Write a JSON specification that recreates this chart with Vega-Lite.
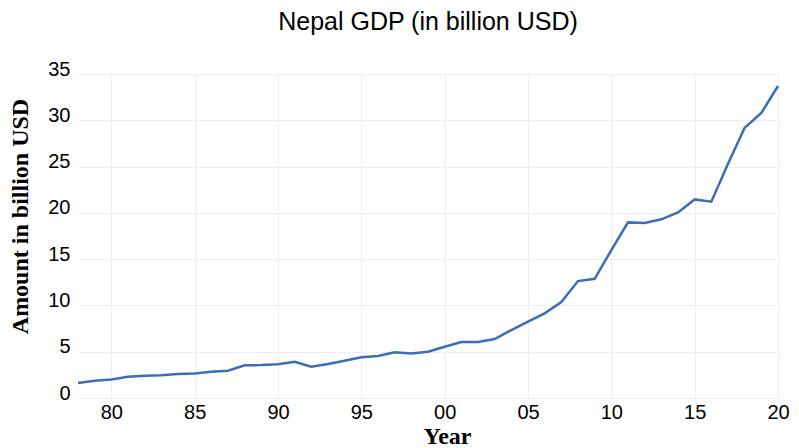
{
  "$schema": "https://vega.github.io/schema/vega-lite/v6.json",
  "autosize": "none",
  "width": 700,
  "height": 324,
  "padding": {"left": 78, "top": 74, "right": 21, "bottom": 50},
  "background": "white",
  "title": {
    "text": "Nepal GDP (in billion USD)",
    "font": "Liberation Sans",
    "fontSize": 25,
    "fontWeight": "normal",
    "color": "#000000",
    "offset": 24,
    "anchor": "middle"
  },
  "config": {
    "view": {"stroke": null},
    "axis": {
      "domain": false,
      "ticks": false,
      "gridColor": "#eeeeee",
      "gridWidth": 1,
      "labelFont": "Liberation Sans",
      "labelFontSize": 20,
      "labelColor": "#000000",
      "titleFont": "Liberation Serif",
      "titleFontSize": 24,
      "titleFontWeight": "bold",
      "titleColor": "#000000"
    }
  },
  "data": {
    "values": [
      {"year": 1978, "gdp": 1.62},
      {"year": 1979, "gdp": 1.87},
      {"year": 1980, "gdp": 2.0},
      {"year": 1981, "gdp": 2.3},
      {"year": 1982, "gdp": 2.4},
      {"year": 1983, "gdp": 2.46},
      {"year": 1984, "gdp": 2.6},
      {"year": 1985, "gdp": 2.64},
      {"year": 1986, "gdp": 2.84},
      {"year": 1987, "gdp": 2.95},
      {"year": 1988, "gdp": 3.53},
      {"year": 1989, "gdp": 3.56},
      {"year": 1990, "gdp": 3.64},
      {"year": 1991, "gdp": 3.92},
      {"year": 1992, "gdp": 3.38},
      {"year": 1993, "gdp": 3.67},
      {"year": 1994, "gdp": 4.03},
      {"year": 1995, "gdp": 4.39},
      {"year": 1996, "gdp": 4.53},
      {"year": 1997, "gdp": 4.93},
      {"year": 1998, "gdp": 4.82},
      {"year": 1999, "gdp": 5.0},
      {"year": 2000, "gdp": 5.54},
      {"year": 2001, "gdp": 6.05},
      {"year": 2002, "gdp": 6.05},
      {"year": 2003, "gdp": 6.37},
      {"year": 2004, "gdp": 7.34},
      {"year": 2005, "gdp": 8.24},
      {"year": 2006, "gdp": 9.14},
      {"year": 2007, "gdp": 10.37},
      {"year": 2008, "gdp": 12.63},
      {"year": 2009, "gdp": 12.88},
      {"year": 2010, "gdp": 15.98},
      {"year": 2011, "gdp": 18.97},
      {"year": 2012, "gdp": 18.9},
      {"year": 2013, "gdp": 19.3},
      {"year": 2014, "gdp": 20.05},
      {"year": 2015, "gdp": 21.45},
      {"year": 2016, "gdp": 21.2},
      {"year": 2017, "gdp": 25.3},
      {"year": 2018, "gdp": 29.2},
      {"year": 2019, "gdp": 30.8},
      {"year": 2020, "gdp": 33.7}
    ]
  },
  "mark": {"type": "line", "color": "#3f6db5", "strokeWidth": 2.5},
  "encoding": {
    "x": {
      "field": "year",
      "type": "quantitative",
      "scale": {"domain": [1978, 2020], "nice": false, "zero": false},
      "axis": {
        "title": "Year",
        "values": [1980, 1985, 1990, 1995, 2000, 2005, 2010, 2015, 2020],
        "format": "d",
        "labelExpr": "substring(datum.label, 2)",
        "labelPadding": 4,
        "labelFlush": false,
        "titleX": 369,
        "titleY": 45,
        "titleBaseline": "alphabetic",
        "titleAnchor": null
      }
    },
    "y": {
      "field": "gdp",
      "type": "quantitative",
      "scale": {"domain": [0, 35], "nice": false},
      "axis": {
        "title": "Amount in billion USD",
        "values": [0, 5, 10, 15, 20, 25, 30, 35],
        "labelPadding": 8,
        "labelOffset": -5,
        "titleX": -58,
        "titleY": 142,
        "titleAlign": "center",
        "titleBaseline": "middle",
        "titleAngle": -90
      }
    }
  }
}
